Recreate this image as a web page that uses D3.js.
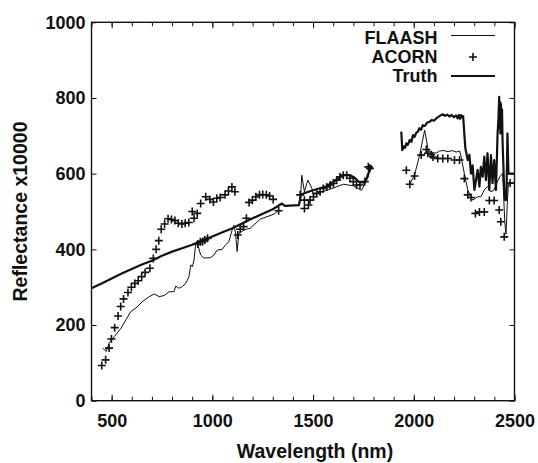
<!DOCTYPE html>
<html>
<head>
<meta charset="utf-8">
<script src="https://d3js.org/d3.v7.min.js"></script>
<style>
  body { margin: 0; background: #fff; }
  svg text { font-family: "Liberation Sans", Arial, sans-serif; font-weight: bold; fill: #111; }
</style>
</head>
<body>
<svg id="chart"></svg>
<script>
// Chart data: [wavelength nm, reflectance x10000], null = gap
const truth = [
  [400, 297], [450, 310], [500, 323], [550, 336], [600, 348], [650, 360], [700, 370],
  [750, 383], [800, 394], [850, 403], [900, 412], [950, 423], [1000, 434], [1050, 445],
  [1100, 456], [1150, 469], [1200, 482], [1250, 494], [1300, 506], [1330, 516], [1345, 521],
  [1360, 515], [1430, 517], [1440, 545], [1470, 551], [1500, 556], [1564, 566], [1600, 578],
  [1649, 596], [1683, 596], [1705, 590], [1726, 579], [1754, 576], [1770, 590], [1785, 620],
  [1795, 617], [1850, null],
  [1938, 711], [1943, 662], [1950, 672], [1956, 668], [1963, 680], [1970, 676], [1980, 689],
  [1988, 684], [1996, 702], [2004, 697], [2012, 708], [2020, 711], [2028, 720], [2036, 716],
  [2045, 728], [2055, 726], [2066, 735], [2078, 737], [2090, 742], [2100, 740], [2111, 746],
  [2122, 750], [2133, 754], [2144, 757], [2155, 753], [2166, 756], [2177, 751], [2188, 755],
  [2199, 749], [2210, 754], [2218, 746], [2224, 755], [2230, 745], [2235, 755], [2240, 748],
  [2245, 752], [2256, 667], [2268, 636], [2276, 650], [2284, 600], [2292, 622], [2301, 557],
  [2309, 583], [2317, 610], [2326, 566], [2333, 618], [2342, 592], [2350, 645], [2358, 583],
  [2366, 654], [2375, 557], [2383, 649], [2391, 575], [2399, 636], [2408, 557], [2416, 706],
  [2420, 740], [2424, 803], [2426, 720], [2428, 790], [2430, 706], [2432, 786], [2435, 720],
  [2438, 770], [2441, 680], [2449, 557], [2454, 530], [2460, 531], [2465, 706], [2470, 600],
  [2500, 600]
];

const flaash = [
  [456, 139], [473, 130], [489, 154], [514, 170], [547, 192], [571, 214], [596, 236],
  [621, 245], [653, 262], [687, 275], [711, 282], [736, 275], [761, 278], [785, 288],
  [810, 288], [818, 303], [835, 297], [851, 302], [868, 310], [884, 328], [893, 359],
  [901, 354], [909, 372], [917, 412], [925, 418], [942, 385], [958, 377], [991, 378],
  [1008, 385], [1024, 398], [1049, 400], [1066, 412], [1082, 420], [1098, 451], [1107, 464],
  [1115, 444], [1123, 394], [1131, 442], [1156, 451], [1189, 456], [1238, 480], [1296, 491],
  [1312, 495], [1330, 505], [1380, null],
  [1438, 540], [1444, 596], [1457, 552], [1474, 583], [1494, 561], [1500, 545], [1550, 553],
  [1600, 562], [1650, 572], [1700, 568], [1740, 556], [1755, 570], [1770, 600], [1790, 612],
  [1850, null],
  [1980, 572], [2004, 597], [2029, 649], [2054, 715], [2070, 667], [2078, 658], [2095, 656],
  [2111, 654], [2128, 660], [2150, 661], [2170, 658], [2190, 661], [2210, 657], [2227, 660],
  [2235, 645], [2251, 600], [2268, 557], [2292, 530], [2317, 539], [2333, 539], [2350, 557],
  [2366, 566], [2383, 552], [2399, 557], [2411, 575], [2428, 592], [2441, 601], [2452, 470],
  [2458, 440], [2464, 520], [2470, 575], [2500, 575]
];

const acorn = [
  [451, 93], [470, 108], [487, 139], [499, 163], [515, 193], [532, 224], [545, 249],
  [559, 269], [581, 286], [598, 300], [615, 310], [632, 317], [649, 328], [666, 339],
  [690, 350], [707, 376], [721, 400], [734, 423], [746, 453], [763, 467], [780, 481],
  [797, 479], [814, 476], [831, 469], [849, 467], [865, 469], [883, 471], [900, 500],
  [909, 482], [925, 495], [942, 521], [967, 539], [988, 532], [1005, 525], [1022, 535],
  [1039, 537], [1063, 544], [1080, 554], [1097, 565], [1112, 552],
  [928, 414], [940, 420], [952, 421], [963, 425], [976, 429],
  [1126, 438], [1138, 453], [1155, 460], [1169, 482], [1182, 524], [1199, 530], [1216, 539],
  [1234, 544], [1250, 545], [1268, 544], [1284, 541], [1302, 532], [1329, 502],
  [1436, 544], [1457, 530], [1457, 508], [1477, 517], [1485, 530], [1502, 539], [1518, 548],
  [1535, 552], [1551, 561], [1568, 565], [1585, 570], [1601, 574], [1617, 583], [1634, 592],
  [1650, 596], [1667, 596], [1683, 588], [1700, 579], [1716, 570], [1733, 570], [1757, 579],
  [1774, 618], [1782, 614],
  [1963, 609], [1980, 572], [2004, 594], [2037, 649], [2062, 664], [2070, 654], [2086, 650],
  [2095, 644], [2119, 640], [2144, 640], [2169, 640], [2202, 636], [2227, 636], [2251, 587],
  [2268, 544], [2284, 537], [2306, 495], [2326, 499], [2350, 499], [2375, 529], [2399, 529],
  [2424, 504], [2432, 473], [2449, 433], [2478, 575]
];

// Axis tick values
const xMajorTicks = [500, 1000, 1500, 2000, 2500];
const xMinorTicks = d3.range(400, 2501, 100);
const yTicks = [0, 200, 400, 600, 800, 1000];

// Dimensions
const svgWidth = 538;
const svgHeight = 463;
const margin = { top: 22.3, right: 23.5, bottom: 62.3, left: 91.5 };
const plotW = svgWidth - margin.left - margin.right;
const plotH = svgHeight - margin.top - margin.bottom;

const svg = d3.select("#chart")
  .attr("width", svgWidth)
  .attr("height", svgHeight);

const g = svg.append("g")
  .attr("transform", `translate(${margin.left},${margin.top})`);

// Scales
const x = d3.scaleLinear().domain([400, 2500]).range([0, plotW]);
const y = d3.scaleLinear().domain([0, 1000]).range([plotH, 0]);

// Clip the data to the plot box
svg.append("defs").append("clipPath").attr("id", "clip")
  .append("rect").attr("width", plotW).attr("height", plotH);

// Axes (ticks pointing inward, mirrored on top and right)
function styleAxis(sel) {
  sel.select(".domain").remove();
  sel.selectAll("line").attr("stroke", "#111").attr("stroke-width", 1);
  sel.selectAll("text").attr("font-size", 18);
}

g.append("g")
  .attr("transform", `translate(0,${plotH})`)
  .call(d3.axisBottom(x).tickValues(xMinorTicks).tickSize(-4).tickFormat(""))
  .call(styleAxis);
g.append("g")
  .attr("transform", `translate(0,${plotH})`)
  .call(d3.axisBottom(x).tickValues(xMajorTicks).tickSize(-6).tickPadding(14).tickFormat(d3.format("d")))
  .call(styleAxis);
g.append("g")
  .call(d3.axisTop(x).tickValues(xMinorTicks).tickSize(-4).tickFormat(""))
  .call(styleAxis);
g.append("g")
  .call(d3.axisTop(x).tickValues(xMajorTicks).tickSize(-6).tickFormat(""))
  .call(styleAxis);

g.append("g")
  .call(d3.axisLeft(y).tickValues(yTicks).tickSize(-5).tickPadding(6).tickFormat(d3.format("d")))
  .call(styleAxis);
g.append("g")
  .attr("transform", `translate(${plotW},0)`)
  .call(d3.axisRight(y).tickValues(yTicks).tickSize(-5).tickFormat(""))
  .call(styleAxis);

// Frame
g.append("rect")
  .attr("width", plotW)
  .attr("height", plotH)
  .attr("fill", "none")
  .attr("stroke", "#111")
  .attr("stroke-width", 1.4);

// Lines
const line = d3.line()
  .defined(d => d[1] !== null)
  .x(d => x(d[0]))
  .y(d => y(d[1]));

const dataG = g.append("g").attr("clip-path", "url(#clip)");

dataG.append("path")
  .datum(flaash)
  .attr("fill", "none")
  .attr("stroke", "#111")
  .attr("stroke-width", 1)
  .attr("d", line);

dataG.append("path")
  .datum(truth)
  .attr("fill", "none")
  .attr("stroke", "#111")
  .attr("stroke-width", 2.2)
  .attr("stroke-linejoin", "round")
  .attr("d", line);

// ACORN crosses
const crossSize = 4;
const crossPath = `M${-crossSize},0H${crossSize}M0,${-crossSize}V${crossSize}`;
dataG.selectAll(".acorn")
  .data(acorn)
  .enter()
  .append("path")
  .attr("class", "acorn")
  .attr("transform", d => `translate(${x(d[0])},${y(d[1])})`)
  .attr("d", crossPath)
  .attr("stroke", "#111")
  .attr("stroke-width", 1.6);

// Legend
const legend = svg.append("g");
const legendItems = ["FLAASH", "ACORN", "Truth"];
const legendY = [37.5, 57, 76];
const legendTextX = 437.5;
const sampleX0 = 451;
const sampleX1 = 495;

legendItems.forEach((name, i) => {
  legend.append("text")
    .attr("x", legendTextX)
    .attr("y", legendY[i])
    .attr("dy", "0.35em")
    .attr("text-anchor", "end")
    .attr("font-size", 18)
    .text(name);
});
legend.append("line")
  .attr("x1", sampleX0).attr("x2", sampleX1)
  .attr("y1", 35.5).attr("y2", 35.5)
  .attr("stroke", "#111").attr("stroke-width", 1);
legend.append("path")
  .attr("transform", `translate(${(sampleX0 + sampleX1) / 2},${legendY[1]})`)
  .attr("d", crossPath)
  .attr("stroke", "#111").attr("stroke-width", 1.6);
legend.append("line")
  .attr("x1", sampleX0).attr("x2", sampleX1)
  .attr("y1", legendY[2]).attr("y2", legendY[2])
  .attr("stroke", "#111").attr("stroke-width", 2.2);

// Axis titles
svg.append("text")
  .attr("x", 315)
  .attr("y", 458)
  .attr("text-anchor", "middle")
  .attr("font-size", 19.5)
  .text("Wavelength (nm)");

svg.append("text")
  .attr("transform", `translate(27,${margin.top + plotH / 2}) rotate(-90)`)
  .attr("text-anchor", "middle")
  .attr("font-size", 19.5)
  .text("Reflectance x10000");
</script>
</body>
</html>
